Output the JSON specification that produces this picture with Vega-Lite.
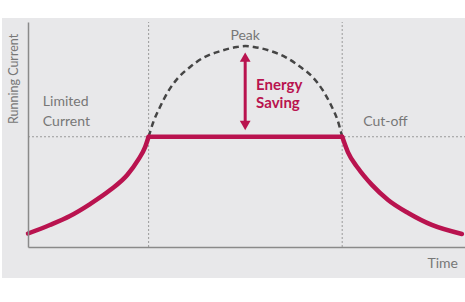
{
  "$schema": "https://vega.github.io/schema/vega-lite/v6.json",
  "width": 437,
  "height": 225,
  "autosize": {"type": "none"},
  "padding": {"left": 28, "top": 22, "right": 0, "bottom": 55},
  "background": "#ffffff",
  "config": {"view": {"stroke": null}, "font": "Lato"},
  "datasets": {
    "bg": [{"t": -5.95, "t2": 100, "c": 101.8, "c2": -13.8}],
    "vrules": [{"t": 27.6, "c": 0, "c2": 100}, {"t": 71.9, "c": 0, "c2": 100}],
    "hrules": [{"t": 0, "t2": 100, "c": 49}],
    "peak": [
      {"o": 0, "t": 27.6, "c": 49}, {"o": 1, "t": 28.6, "c": 55.1}, {"o": 2, "t": 30.2, "c": 62.2},
      {"o": 3, "t": 32.0, "c": 68.9}, {"o": 4, "t": 34.3, "c": 75.1}, {"o": 5, "t": 37.1, "c": 80.0},
      {"o": 6, "t": 40.0, "c": 84.0}, {"o": 7, "t": 43.9, "c": 87.0}, {"o": 8, "t": 47.8, "c": 88.9},
      {"o": 9, "t": 49.7, "c": 89.3}, {"o": 10, "t": 51.7, "c": 88.9}, {"o": 11, "t": 55.4, "c": 87.2},
      {"o": 12, "t": 59.0, "c": 84.3}, {"o": 13, "t": 62.2, "c": 80.2}, {"o": 14, "t": 65.1, "c": 75.6},
      {"o": 15, "t": 67.4, "c": 69.8}, {"o": 16, "t": 69.3, "c": 63.2}, {"o": 17, "t": 70.9, "c": 56.0},
      {"o": 18, "t": 71.9, "c": 49}
    ],
    "current": [
      {"seg": "rise", "o": 0, "t": 0.0, "c": 6.0}, {"seg": "rise", "o": 1, "t": 5.0, "c": 9.8}, {"seg": "rise", "o": 2, "t": 9.6, "c": 13.8},
      {"seg": "rise", "o": 3, "t": 14.2, "c": 19.1}, {"seg": "rise", "o": 4, "t": 18.8, "c": 25.3}, {"seg": "rise", "o": 5, "t": 22.7, "c": 32.0},
      {"seg": "rise", "o": 6, "t": 25.2, "c": 38.7}, {"seg": "rise", "o": 7, "t": 26.8, "c": 44.4}, {"seg": "rise", "o": 8, "t": 27.6, "c": 49},
      {"seg": "flat", "o": 9, "t": 27.6, "c": 49}, {"seg": "flat", "o": 10, "t": 71.9, "c": 49},
      {"seg": "fall", "o": 11, "t": 71.9, "c": 49}, {"seg": "fall", "o": 12, "t": 73.2, "c": 42.2}, {"seg": "fall", "o": 13, "t": 75.5, "c": 35.1},
      {"seg": "fall", "o": 14, "t": 78.7, "c": 27.6}, {"seg": "fall", "o": 15, "t": 82.4, "c": 20.9}, {"seg": "fall", "o": 16, "t": 87.0, "c": 15.1},
      {"seg": "fall", "o": 17, "t": 92.4, "c": 9.8}, {"seg": "fall", "o": 18, "t": 99.3, "c": 5.8}
    ],
    "arrow": [{"t": 49.7, "c": 84.4, "c2": 54.0}],
    "heads": [{"t": 49.7, "c": 84.4, "s": "triangle-up"}, {"t": 49.7, "c": 54.0, "s": "triangle-down"}],
    "lefttext": [
      {"t": 3.4, "c": 62.7, "label": "Limited"},
      {"t": 3.4, "c": 53.8, "label": "Current"},
      {"t": 76.7, "c": 53.8, "label": "Cut-off"}
    ],
    "centertext": [{"t": 49.7, "c": 92.0, "label": "Peak"}],
    "righttext": [{"t": 98.4, "c": -9.3, "label": "Time"}],
    "redtext": [
      {"t": 52.2, "c": 69.8, "label": "Energy"},
      {"t": 52.2, "c": 61.8, "label": "Saving"}
    ],
    "ytitle": [{"t": -3.2, "c": 74.7, "label": "Running Current"}]
  },
  "encoding": {
    "x": {"field": "t", "type": "quantitative", "scale": {"domain": [0, 100], "nice": false, "zero": false},
      "axis": {"domain": true, "domainColor": "#8a8a8a", "domainWidth": 1.5, "ticks": false, "labels": false, "grid": false, "title": null, "zindex": 1}},
    "y": {"field": "c", "type": "quantitative", "scale": {"domain": [0, 100], "nice": false, "zero": false},
      "axis": {"domain": true, "domainColor": "#8a8a8a", "domainWidth": 1.5, "ticks": false, "labels": false, "grid": false, "title": null, "zindex": 1}}
  },
  "layer": [
    {"data": {"name": "bg"}, "mark": {"type": "rect", "color": "#e8e8ea"},
      "encoding": {"x2": {"field": "t2"}, "y2": {"field": "c2"}}},
    {"data": {"name": "vrules"}, "mark": {"type": "rule", "color": "#9a9a9a", "strokeWidth": 1, "strokeDash": [2, 2]},
      "encoding": {"y2": {"field": "c2"}}},
    {"data": {"name": "hrules"}, "mark": {"type": "rule", "color": "#9a9a9a", "strokeWidth": 1, "strokeDash": [2, 2]},
      "encoding": {"x2": {"field": "t2"}}},
    {"data": {"name": "peak"}, "mark": {"type": "line", "color": "#454545", "strokeWidth": 2.5, "strokeDash": [6, 4], "interpolate": "monotone"},
      "encoding": {"order": {"field": "o", "type": "quantitative"}}},
    {"data": {"name": "current"}, "mark": {"type": "line", "color": "#b9134f", "strokeWidth": 4.5, "strokeCap": "round", "interpolate": "monotone"},
      "encoding": {"order": {"field": "o", "type": "quantitative"}, "detail": {"field": "seg", "type": "nominal"}}},
    {"data": {"name": "arrow"}, "mark": {"type": "rule", "color": "#b9134f", "strokeWidth": 3},
      "encoding": {"y2": {"field": "c2"}}},
    {"data": {"name": "heads"}, "mark": {"type": "point", "filled": true, "color": "#b9134f", "size": 115, "opacity": 1},
      "encoding": {"shape": {"field": "s", "type": "nominal", "scale": null, "legend": null}}},
    {"data": {"name": "lefttext"}, "mark": {"type": "text", "font": "Lato", "fontSize": 14, "color": "#777777", "align": "left", "baseline": "alphabetic"},
      "encoding": {"text": {"field": "label"}}},
    {"data": {"name": "centertext"}, "mark": {"type": "text", "font": "Lato", "fontSize": 14, "color": "#777777", "align": "center", "baseline": "alphabetic"},
      "encoding": {"text": {"field": "label"}}},
    {"data": {"name": "righttext"}, "mark": {"type": "text", "font": "Lato", "fontSize": 14, "color": "#777777", "align": "right", "baseline": "alphabetic"},
      "encoding": {"text": {"field": "label"}}},
    {"data": {"name": "redtext"}, "mark": {"type": "text", "font": "Lato", "fontSize": 15, "fontWeight": "bold", "color": "#b9134f", "align": "left", "baseline": "alphabetic"},
      "encoding": {"text": {"field": "label"}}},
    {"data": {"name": "ytitle"}, "mark": {"type": "text", "font": "Lato", "fontSize": 12.5, "color": "#777777", "angle": 270, "align": "center", "baseline": "middle"},
      "encoding": {"text": {"field": "label"}}}
  ]
}
